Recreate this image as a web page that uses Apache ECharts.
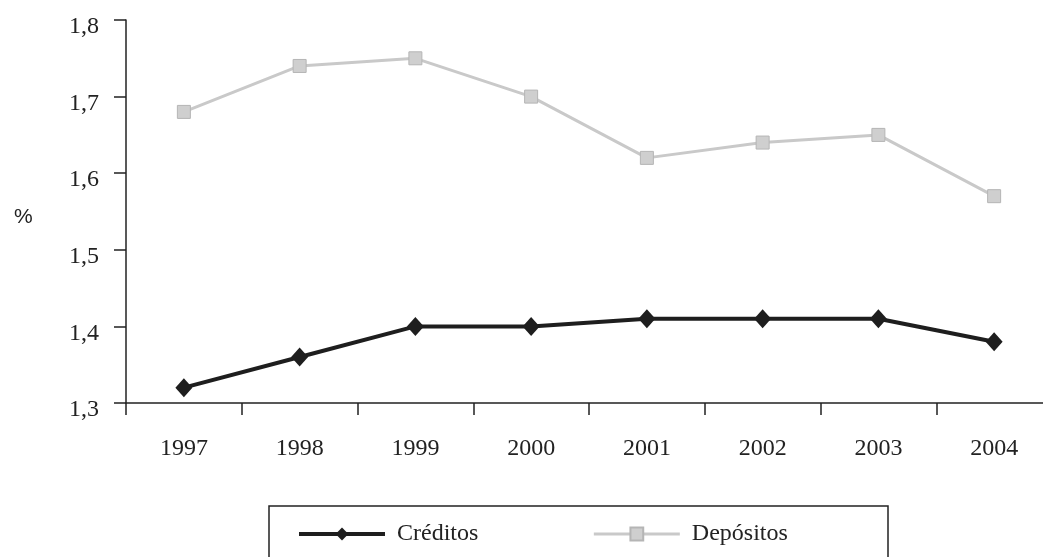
<!DOCTYPE html>
<html><head><meta charset="utf-8">
<script src="https://cdn.jsdelivr.net/npm/echarts@6/dist/echarts.min.js"></script>
<style>html,body{margin:0;padding:0;background:#fff}#c{width:1043px;height:557px}</style>
</head><body><div id="c"></div>
<script>
const years = ['1997','1998','1999','2000','2001','2002','2003','2004'];
const creditos = [1.32, 1.36, 1.40, 1.40, 1.41, 1.41, 1.41, 1.38];
const depositos = [1.68, 1.74, 1.75, 1.70, 1.62, 1.64, 1.65, 1.57];
const seriesNames = ['Créditos', 'Depósitos'];

const font = 'Liberation Serif';
const chart = echarts.init(document.getElementById('c'));
chart.setOption({
  animation: false,
  textStyle: {fontFamily: font},
  grid: {left: 126, width: 926, top: 20, bottom: 154, outerBoundsMode: 'none', containLabel: false},
  graphic: [
    {type: 'text', left: 14, top: 207, style: {text: '%', font: '21px "Liberation Sans"', fill: '#222'}},
    {type: 'rect', shape: {x: 269, y: 506, width: 619, height: 60}, style: {fill: 'none', stroke: '#222', lineWidth: 1.5}}
  ],
  legend: {
    left: 292, top: 517, itemWidth: 86, itemHeight: 16, itemGap: 114,
    lineStyle: {width: 'inherit'},
    textStyle: {fontFamily: font, fontSize: 24, color: '#222', padding: [0, 0, 0, 7]},
    data: seriesNames
  },
  xAxis: {
    type: 'category', data: years, boundaryGap: true,
    axisLine: {lineStyle: {color: '#222', width: 1.5}},
    axisTick: {show: true, interval: 0, length: 12, lineStyle: {color: '#222', width: 1.5}},
    axisLabel: {margin: 34, fontFamily: font, fontSize: 24, color: '#222', interval: 0}
  },
  yAxis: {
    type: 'value', min: 1.3, max: 1.8, interval: 0.1,
    axisLine: {show: true, lineStyle: {color: '#222', width: 1.5}},
    axisTick: {show: true, length: 12, lineStyle: {color: '#222', width: 1.5}},
    splitLine: {show: false},
    axisLabel: {margin: 27, fontFamily: font, fontSize: 24, color: '#222',
      verticalAlign: 'top', lineHeight: 14,
      formatter: v => v.toFixed(1).replace('.', ',')}
  },
  series: [
    {name: seriesNames[0], type: 'line', data: creditos, symbol: 'diamond', symbolSize: [17, 19],
     lineStyle: {color: '#1e1e1e', width: 4}, itemStyle: {color: '#1e1e1e'}},
    {name: seriesNames[1], type: 'line', data: depositos, symbol: 'rect', symbolSize: 13,
     lineStyle: {color: '#c9c9c9', width: 3}, itemStyle: {color: '#cfcfcf', borderColor: '#b5b5b5', borderWidth: 1}}
  ]
});
</script></body></html>
